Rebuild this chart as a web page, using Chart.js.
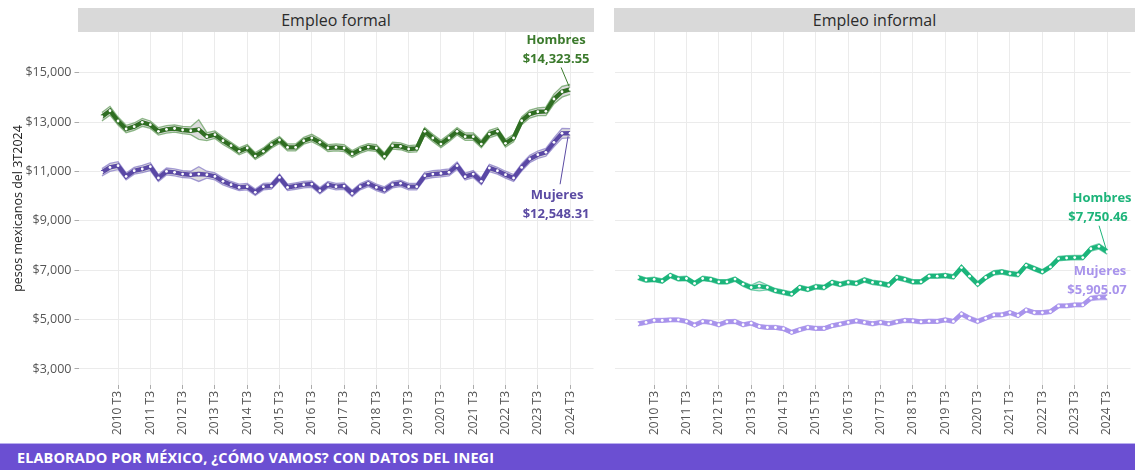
<!DOCTYPE html>
<html><head><meta charset="utf-8">
<script src="https://cdn.jsdelivr.net/npm/chart.js@4.4.1/dist/chart.umd.min.js"></script>
<style>
html,body{margin:0;padding:0}
body{width:1135px;height:470px;background:#fff;overflow:hidden;position:relative;font-family:'Open Sans',sans-serif}
.strip{position:absolute;top:8px;height:24px;background:#d9d9d9;color:#2b2b2b;font-size:16px;text-align:center;line-height:24px;z-index:2}
#w1{position:absolute;left:0;top:0;width:600px;height:444px}
#w2{position:absolute;left:600px;top:0;width:535px;height:444px}
#footer{position:absolute;left:0;top:443px;width:1135px;height:27px;background:#6b4fd2;border-top:1px solid #b9aeee;box-sizing:border-box;color:#fff;font-weight:700;font-size:14.5px;line-height:27px;padding-left:17px;letter-spacing:0.1px}
</style></head>
<body>
<div class="strip" style="left:78px;width:516px">Empleo formal</div>
<div class="strip" style="left:614px;width:521px">Empleo informal</div>
<div id="w1"><canvas id="c1"></canvas></div>
<div id="w2"><canvas id="c2"></canvas></div>
<div id="footer">ELABORADO POR MÉXICO, ¿CÓMO VAMOS? CON DATOS DEL INEGI</div>
<script>
// ---- DATA ----
const quarters = [];
const years = [2010,2011,2012,2013,2014,2015,2016,2017,2018,2019,2020,2021,2022,2023,2024];
const tickLabels = ["2010 T3","2011 T3","2012 T3","2013 T3","2014 T3","2015 T3","2016 T3","2017 T3","2018 T3","2019 T3","2020 T3","2021 T3","2022 T3","2023 T3","2024 T3"];
years.forEach(y => { for (let q = 1; q <= 4; q++) { if (!(y === 2024 && q > 3)) quarters.push(y + " T" + q); } });
const tickIdx = tickLabels.map(t => quarters.indexOf(t));
const yTicks = [3000,5000,7000,9000,11000,13000,15000];

const formalHombres = [13218,13460,13045,12720,12815,12990,12895,12625,12705,12740,
  12680,12650,12700,12410,12490,12245,12045,11815,11950,11625,
  11815,12085,12275,11975,11975,12245,12355,12180,11950,11975,
  11950,11710,11880,11990,11950,11610,12045,12020,11910,11935,
  12625,12355,12110,12355,12625,12410,12410,12110,12515,12625,
  12140,12355,13055,13325,13420,13435,13935,14230,14323.55];
const formalHombresCI = [170,180,160,150,150,160,150,150,150,150,
  150,160,400,160,150,150,140,140,140,140,
  140,140,140,140,140,140,150,140,140,140,
  140,140,140,140,140,140,140,140,140,140,
  150,150,150,150,150,150,150,150,150,150,
  150,150,160,160,160,170,200,220,200];
const formalMujeres = [10965,11165,11235,10800,11030,11100,11195,10735,11000,10965,
  10895,10870,10895,10870,10800,10600,10465,10355,10385,10155,
  10385,10410,10760,10355,10410,10465,10490,10220,10465,10385,
  10410,10110,10385,10520,10355,10250,10465,10520,10385,10385,
  10830,10895,10920,10965,11235,10790,10895,10600,11140,11030,
  10870,10735,11165,11505,11680,11775,12180,12545,12548.31];
const formalMujeresCI = [150,160,160,140,140,150,160,140,140,140,
  140,140,300,140,140,140,130,130,130,130,
  130,130,140,130,130,130,130,130,130,130,
  130,130,130,130,130,130,130,130,130,130,
  140,140,140,140,150,140,140,140,150,140,
  140,140,150,150,150,160,180,200,190];
const informalHombres = [6705,6600,6625,6560,6785,6650,6665,6465,6665,6625,
  6530,6530,6640,6435,6300,6355,6300,6170,6100,6035,
  6300,6220,6330,6300,6505,6425,6505,6465,6610,6505,
  6465,6400,6705,6625,6530,6530,6760,6760,6785,6730,
  7105,6760,6435,6705,6890,6935,6865,6825,7200,7065,
  6935,7135,7470,7495,7510,7510,7870,7965,7750.46];
const informalHombresCI = [90,90,90,90,90,90,90,90,90,90,
  90,90,90,90,100,190,100,90,90,90,
  90,90,90,90,90,90,90,90,90,90,
  90,90,90,90,90,90,90,90,90,90,
  100,100,100,90,90,90,90,90,90,90,
  90,90,90,90,90,90,100,110,100];
const informalMujeres = [4830,4885,4965,4965,4990,4990,4925,4775,4925,4885,
  4790,4910,4925,4790,4855,4720,4680,4680,4630,4480,
  4590,4680,4640,4640,4750,4815,4885,4950,4885,4830,
  4885,4830,4910,4965,4950,4910,4935,4925,4990,4925,
  5230,5055,4925,5055,5190,5190,5285,5165,5390,5285,
  5285,5325,5555,5555,5595,5595,5860,5900,5905.07];
const informalMujeresCI = [80,80,80,80,80,80,80,80,80,80,
  80,80,80,80,80,80,80,80,80,80,
  80,80,80,80,80,80,80,80,80,80,
  80,80,80,80,80,80,80,80,80,80,
  90,90,90,80,80,80,80,80,80,80,
  80,80,80,80,80,80,90,100,100];
const endLabels = {fh:"$14,323.55", fm:"$12,548.31", ih:"$7,750.46", im:"$5,905.07"};

// ---- HELPERS ----
Chart.defaults.font.family = "'Open Sans', sans-serif";
const Y_MIN = 2350, Y_MAX = 16650;
const X_MIN = -2.9, X_MAX = (quarters.length - 1) + 2.9;
const pts = arr => arr.map((v, i) => ({x: i, y: v}));
const band = (arr, ci, s) => arr.map((v, i) => ({x: i, y: v + s * ci[i]}));

function seriesSets(vals, ci, main, edge, fillCol, base) {
  return [
    {data: pts(vals), borderColor: main, borderWidth: 4.4, pointRadius: 1.4, pointHoverRadius: 1.4,
     pointBackgroundColor: '#ffffff', pointBorderWidth: 0, tension: 0, fill: false, order: 0},
    {data: band(vals, ci, -1), borderColor: edge, borderWidth: 1.3, pointRadius: 0, tension: 0, fill: false, order: 1},
    {data: band(vals, ci, 1), borderColor: edge, borderWidth: 1.3, pointRadius: 0, tension: 0,
     fill: base + 1, backgroundColor: fillCol, order: 1}
  ];
}

const annotPlugin = {
  id: 'annots',
  afterDatasetsDraw(chart, args, opts) {
    const ctx = chart.ctx, xs = chart.scales.x, ys = chart.scales.y;
    (opts.items || []).forEach(a => {
      const px = xs.getPixelForValue(a.idx), py = ys.getPixelForValue(a.value);
      ctx.save();
      if (a.leader) {
        ctx.strokeStyle = a.color; ctx.lineWidth = 1;
        ctx.beginPath(); ctx.moveTo(px + a.leader[0], py + a.leader[1]);
        ctx.lineTo(px + a.leader[2], py + a.leader[3]); ctx.stroke();
      }
      ctx.fillStyle = a.color; ctx.font = "700 13px 'Open Sans'";
      ctx.textAlign = 'center'; ctx.textBaseline = 'middle';
      ctx.fillText(a.title, px + a.t[0], py + a.t[1]);
      ctx.fillText(a.label, px + a.l[0], py + a.l[1]);
      ctx.restore();
    });
  }
};

function makeChart(id, datasets, left, yw, rightPad, items) {
  return new Chart(document.getElementById(id), {
    type: 'line',
    data: {datasets},
    plugins: [annotPlugin],
    options: {
      responsive: true, maintainAspectRatio: false, animation: false, devicePixelRatio: 1,
      layout: {padding: {top: 32, right: rightPad, left: 0, bottom: 0}},
      plugins: {legend: {display: false}, tooltip: {enabled: false}, annots: {items}},
      scales: {
        x: {
          type: 'linear', min: X_MIN, max: X_MAX,
          afterBuildTicks: s => { s.ticks = tickIdx.map(v => ({value: v})); },
          afterFit: s => { s.height = 59; s.paddingLeft = 0; s.paddingRight = 0; },
          ticks: {autoSkip: false, minRotation: 90, maxRotation: 90, color: '#555', padding: 2,
                  font: {size: 12}, callback: (v, i) => tickLabels[i]},
          grid: {color: '#ebebeb', lineWidth: 1, tickColor: '#aaa', tickLength: 4},
          border: {display: false}
        },
        y: {
          type: 'linear', min: Y_MIN, max: Y_MAX,
          afterBuildTicks: s => { s.ticks = yTicks.map(v => ({value: v})); },
          afterFit: s => { s.width = yw; s.paddingTop = 0; s.paddingBottom = 0; },
          ticks: {display: left, color: '#555', padding: 3, font: {size: 12.5},
                  callback: v => '$' + v.toLocaleString('en-US')},
          title: {display: left, text: 'pesos mexicanos del 3T2024', color: '#222', font: {size: 12.5}, padding: {top: 11, bottom: 0}},
          grid: {color: '#ebebeb', lineWidth: 1, tickColor: '#aaa', tickLength: 4, drawTicks: left},
          border: {display: false}
        }
      }
    }
  });
}

const last = quarters.length - 1;
makeChart('c1', [
  ...seriesSets(formalHombres, formalHombresCI, '#2f6e22', 'rgba(70,140,60,0.6)', 'rgba(150,150,150,0.32)', 0),
  ...seriesSets(formalMujeres, formalMujeresCI, '#5a48a5', 'rgba(110,95,190,0.6)', 'rgba(150,150,150,0.32)', 3)
], true, 78.5, 6.5, [
  {idx: last, value: formalHombres[last], color: '#3b7a2c', title: 'Hombres', label: endLabels.fh,
   t: [-14, -49], l: [-14, -30], leader: [-9, -22, -1, -3]},
  {idx: last, value: formalMujeres[last], color: '#5b4ba3', title: 'Mujeres', label: endLabels.fm,
   t: [-13, 62], l: [-14, 81], leader: [-10, 51, -2, 3]}
]);
makeChart('c2', [
  ...seriesSets(informalHombres, informalHombresCI, '#1bb57b', 'rgba(27,181,123,0.6)', 'rgba(150,150,150,0.25)', 0),
  ...seriesSets(informalMujeres, informalMujeresCI, '#a893ec', 'rgba(168,147,236,0.6)', 'rgba(150,150,150,0.25)', 3)
], false, 14.5, 4.5, [
  {idx: last, value: informalHombres[last], color: '#1db47a', title: 'Hombres', label: endLabels.ih,
   t: [-5, -53], l: [-9, -34], leader: [-8, -26, -1, -3]},
  {idx: last, value: informalMujeres[last], color: '#a994ec', title: 'Mujeres', label: endLabels.im,
   t: [-7, -26], l: [-10, -7]}
]);
</script>
</body></html>
